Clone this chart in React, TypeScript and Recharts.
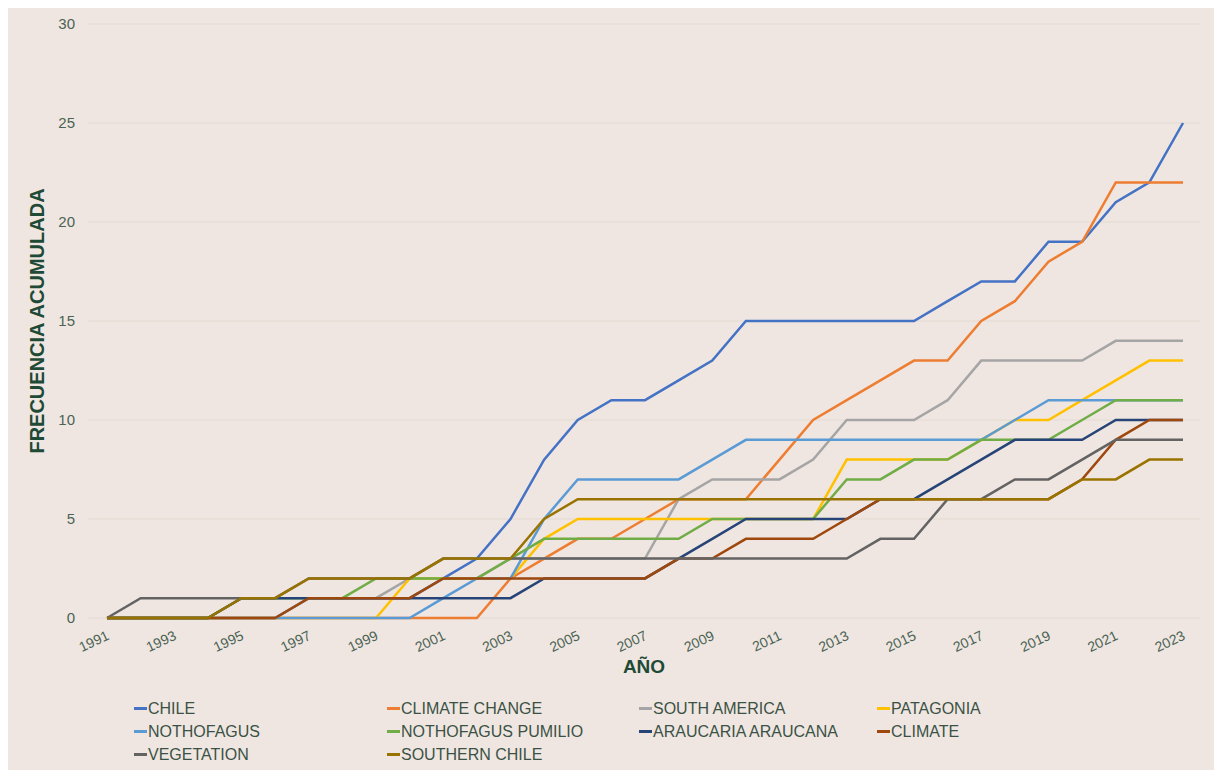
import { LineChart, Line, XAxis, YAxis, CartesianGrid } from 'recharts';

// ─── Data ────────────────────────────────────────────────────────────────────
const years = [
  '1991', '1992', '1993', '1994', '1995', '1996', '1997', '1998', '1999', '2000',
  '2001', '2002', '2003', '2004', '2005', '2006', '2007', '2008', '2009', '2010',
  '2011', '2012', '2013', '2014', '2015', '2016', '2017', '2018', '2019', '2020',
  '2021', '2022', '2023',
];

const chile = [0, 0, 0, 0, 0, 0, 1, 1, 1, 1, 2, 3, 5, 8, 10, 11, 11, 12, 13, 15, 15, 15, 15, 15, 15, 16, 17, 17, 19, 19, 21, 22, 25];
const climateChange = [0, 0, 0, 0, 0, 0, 0, 0, 0, 0, 0, 0, 2, 3, 4, 4, 5, 6, 6, 6, 8, 10, 11, 12, 13, 13, 15, 16, 18, 19, 22, 22, 22];
const southAmerica = [0, 0, 0, 0, 0, 0, 1, 1, 1, 2, 2, 2, 3, 3, 3, 3, 3, 6, 7, 7, 7, 8, 10, 10, 10, 11, 13, 13, 13, 13, 14, 14, 14];
const patagonia = [0, 0, 0, 0, 0, 0, 0, 0, 0, 2, 2, 2, 2, 4, 5, 5, 5, 5, 5, 5, 5, 5, 8, 8, 8, 8, 9, 10, 10, 11, 12, 13, 13];
const nothofagus = [0, 0, 0, 0, 0, 0, 0, 0, 0, 0, 1, 2, 2, 5, 7, 7, 7, 7, 8, 9, 9, 9, 9, 9, 9, 9, 9, 10, 11, 11, 11, 11, 11];
const nothofagusPumilio = [0, 0, 0, 0, 1, 1, 1, 1, 2, 2, 2, 2, 3, 4, 4, 4, 4, 4, 5, 5, 5, 5, 7, 7, 8, 8, 9, 9, 9, 10, 11, 11, 11];
const araucaria = [0, 0, 0, 0, 1, 1, 1, 1, 1, 1, 1, 1, 1, 2, 2, 2, 2, 3, 4, 5, 5, 5, 5, 6, 6, 7, 8, 9, 9, 9, 10, 10, 10];
const climate = [0, 0, 0, 0, 0, 0, 1, 1, 1, 1, 2, 2, 2, 2, 2, 2, 2, 3, 3, 4, 4, 4, 5, 6, 6, 6, 6, 6, 6, 7, 9, 10, 10];
const vegetation = [0, 1, 1, 1, 1, 1, 2, 2, 2, 2, 3, 3, 3, 3, 3, 3, 3, 3, 3, 3, 3, 3, 3, 4, 4, 6, 6, 7, 7, 8, 9, 9, 9];
const southernChile = [0, 0, 0, 0, 1, 1, 2, 2, 2, 2, 3, 3, 3, 5, 6, 6, 6, 6, 6, 6, 6, 6, 6, 6, 6, 6, 6, 6, 6, 7, 7, 8, 8];

const yTicks = [0, 5, 10, 15, 20, 25, 30];

const series = [
  { key: 'chile', name: 'CHILE', color: '#4472C4', values: chile },
  { key: 'climateChange', name: 'CLIMATE CHANGE', color: '#ED7D31', values: climateChange },
  { key: 'southAmerica', name: 'SOUTH AMERICA', color: '#A5A5A5', values: southAmerica },
  { key: 'patagonia', name: 'PATAGONIA', color: '#FFC000', values: patagonia },
  { key: 'nothofagus', name: 'NOTHOFAGUS', color: '#5B9BD5', values: nothofagus },
  { key: 'nothofagusPumilio', name: 'NOTHOFAGUS PUMILIO', color: '#70AD47', values: nothofagusPumilio },
  { key: 'araucaria', name: 'ARAUCARIA ARAUCANA', color: '#264478', values: araucaria },
  { key: 'climate', name: 'CLIMATE', color: '#9E480E', values: climate },
  { key: 'vegetation', name: 'VEGETATION', color: '#636363', values: vegetation },
  { key: 'southernChile', name: 'SOUTHERN CHILE', color: '#997300', values: southernChile },
];

const rows = years.map((year, i) => {
  const row: Record<string, string | number> = { year };
  series.forEach((s) => { row[s.key] = s.values[i]; });
  return row;
});

// ─── Styles ──────────────────────────────────────────────────────────────────
const FONT = '"Liberation Sans", Arial, Helvetica, sans-serif';
const BG = '#F0E6E1';
const GRID = '#E4D9D3';
const TICK = '#4A6354';
const TITLE = '#1E4A36';
const LEGEND_TEXT = '#3A5245';

const W = 1217;
const H = 762;

// rotated year labels
const YearTick = ({ x, y, payload }: { x?: number; y?: number; payload?: { value: string } }) => (
  <text
    x={(x ?? 0) + 3}
    y={(y ?? 0) + 21}
    transform={`rotate(-25 ${(x ?? 0) + 3} ${(y ?? 0) + 21})`}
    textAnchor="end"
    fill={TICK}
    fontSize={14}
    fontFamily={FONT}
  >
    {payload?.value}
  </text>
);

const legendCols = [253, 252, 238, 200];

function ChartLegend() {
  return (
    <div
      style={{
        position: 'absolute',
        left: 129,
        top: 689,
        display: 'grid',
        gridTemplateColumns: legendCols.map((c) => `${c}px`).join(' '),
        gridAutoRows: '23px',
        fontFamily: FONT,
        fontSize: 16,
        color: LEGEND_TEXT,
      }}
    >
      {series.map((s) => (
        <div key={s.key} style={{ display: 'flex', alignItems: 'center', whiteSpace: 'nowrap' }}>
          <span style={{ display: 'inline-block', width: 13, height: 3, background: s.color, marginRight: 1 }} />
          <span>{s.name}</span>
        </div>
      ))}
    </div>
  );
}

export default function App() {
  return (
    <div style={{ position: 'relative', width: W, height: H, marginLeft: -3, background: BG }}>
      <LineChart
        width={W}
        height={H}
        data={rows}
        margin={{ top: 16, right: 22, left: 0, bottom: 92 }}
      >
        <CartesianGrid vertical={false} stroke={GRID} strokeWidth={1.2} />
        <XAxis
          dataKey="year"
          interval={1}
          padding={{ left: 19, right: 17 }}
          axisLine={false}
          tickLine={false}
          tickSize={0}
          tickMargin={0}
          height={60}
          tick={<YearTick />}
          label={{
            content: ({ viewBox }: any) => (
              <text
                x={viewBox.x + viewBox.width / 2}
                y={viewBox.y + 55}
                textAnchor="middle"
                fill={TITLE}
                fontSize={19}
                fontWeight="bold"
                fontFamily={FONT}
              >
                AÑO
              </text>
            ),
          }}
        />
        <YAxis
          domain={[0, 30]}
          ticks={yTicks}
          width={83}
          axisLine={false}
          tickLine={false}
          tickSize={0}
          tickMargin={13}
          tick={{ fill: TICK, fontSize: 15, fontFamily: FONT }}
          label={{
            content: ({ viewBox }: any) => {
              const cx = viewBox.x + 31.5;
              const cy = viewBox.y + viewBox.height / 2;
              return (
                <text
                  x={cx}
                  y={cy}
                  transform={`rotate(-90 ${cx} ${cy})`}
                  textAnchor="middle"
                  dominantBaseline="central"
                  fill={TITLE}
                  fontSize={20}
                  fontWeight="bold"
                  fontFamily={FONT}
                >
                  FRECUENCIA ACUMULADA
                </text>
              );
            },
          }}
        />
        {series.map((s) => (
          <Line
            key={s.key}
            type="linear"
            dataKey={s.key}
            name={s.name}
            stroke={s.color}
            strokeWidth={2.5}
            dot={false}
            activeDot={false}
            isAnimationActive={false}
          />
        ))}
      </LineChart>
      <ChartLegend />
    </div>
  );
}
